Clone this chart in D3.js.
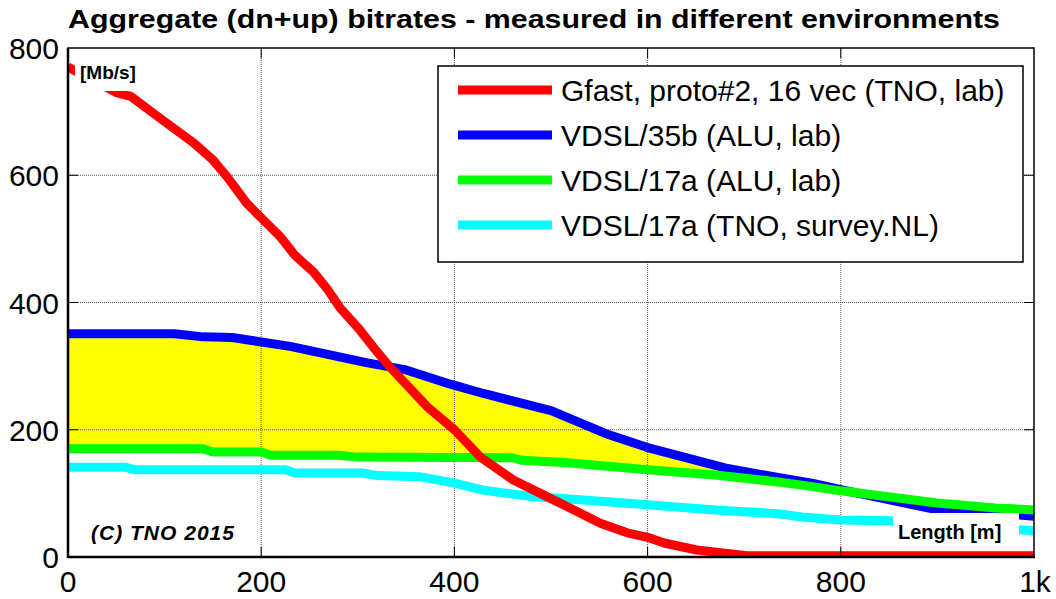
<!DOCTYPE html>
<html>
<head>
<meta charset="utf-8">
<script src="https://cdn.jsdelivr.net/npm/d3@7"></script>
<style>
  body { margin: 0; background: #fff; }
  text { font-family: "Liberation Sans", Arial, sans-serif; }
</style>
</head>
<body>
<svg id="chart" width="1056" height="599"></svg>
<script>
// data (length in m, rate in Mb/s)
const gfast_len = [0, 50, 65, 95, 130, 150, 165, 185, 200, 220, 235, 254, 268, 282, 302, 316, 333, 351, 372, 400, 427, 461, 489, 517, 551, 579, 600, 617, 651, 703, 1000]
const gfast_rate = [770, 730, 724, 690, 651, 624, 597, 556, 533, 503, 474, 448, 422, 391, 357, 330, 299, 270, 236, 200, 157, 121, 100, 79, 53, 38, 31, 22, 11, 2, 2]

const v35b_len = [0, 110, 140, 170, 200, 230, 310, 350, 395, 430, 500, 560, 600, 680, 735, 770, 800, 900, 985, 1000]
const v35b_rate = [351, 351, 346, 345, 338, 331, 305, 294, 272, 257, 230, 192, 172, 140, 125, 116, 106, 74, 66, 64]

const v17a_len = [0, 140, 150, 200, 210, 280, 300, 460, 470, 517, 600, 670, 735, 760, 800, 900, 960, 1000]
const v17a_rate = [170, 170, 165, 165, 160, 160, 157, 156, 152, 148, 137, 129, 118, 113, 104, 85, 77, 74]

const survey_len = [0, 60, 70, 225, 235, 305, 320, 365, 400, 430, 480, 530, 600, 670, 735, 760, 800, 850, 900, 985, 1000]
const survey_rate = [141, 141, 137, 137, 132, 132, 128, 126, 116, 105, 95, 90, 82, 74, 68, 63, 58, 57, 50, 43, 41]

const series_names = ['Gfast, proto#2, 16 vec (TNO, lab)', 'VDSL/35b (ALU, lab)', 'VDSL/17a (ALU, lab)', 'VDSL/17a (TNO, survey.NL)']
const series_colors = ['#ff0000', '#0000ff', '#00ff00', '#00ffff']

const x_ticks = [0, 200, 400, 600, 800, 1000]
const x_tick_labels = ['0', '200', '400', '600', '800', '1k']
const y_ticks = [0, 200, 400, 600, 800]

const title = 'Aggregate (dn+up) bitrates - measured in different environments'

// layout
const m_left = 68, m_right = 1034, m_top = 48, m_bottom = 557

const svg = d3.select('#chart')

const x = d3.scaleLinear().domain([0, 1000]).range([m_left, m_right])
const y = d3.scaleLinear().domain([0, 800]).range([m_bottom, m_top])

const zip = (xs, ys) => xs.map((d, i) => [d, ys[i]])
const series = [
	zip(gfast_len, gfast_rate),
	zip(v35b_len, v35b_rate),
	zip(v17a_len, v17a_rate),
	zip(survey_len, survey_rate)
]

const line = d3.line().x(d => x(d[0])).y(d => y(d[1]))

svg.append('clipPath').attr('id', 'plotclip')
	.append('rect')
	.attr('x', m_left).attr('y', m_top)
	.attr('width', m_right - m_left).attr('height', m_bottom - m_top)

const plot = svg.append('g').attr('clip-path', 'url(#plotclip)')

// yellow band between VDSL/35b and VDSL/17a (ALU)
const band = series[1].filter(d => d[0] <= 790)
	.concat(series[2].filter(d => d[0] <= 790).reverse())
plot.append('path')
	.attr('d', line(band) + 'Z')
	.attr('fill', '#ffff00')
	.attr('stroke', 'none')

// grid
plot.selectAll('.vgrid')
	.data(x_ticks.slice(1, -1))
	.enter().append('line')
	.attr('x1', d => x(d)).attr('x2', d => x(d))
	.attr('y1', m_top).attr('y2', m_bottom)
	.attr('stroke', '#555').attr('stroke-width', 1)
	.attr('stroke-dasharray', '1,1')
plot.selectAll('.hgrid')
	.data(y_ticks.slice(1, -1))
	.enter().append('line')
	.attr('x1', m_left).attr('x2', m_right)
	.attr('y1', d => y(d)).attr('y2', d => y(d))
	.attr('stroke', '#555').attr('stroke-width', 1)
	.attr('stroke-dasharray', '1,1')

// lines: blue, green, cyan, then red on top
const draw_order = [1, 2, 3, 0]
draw_order.forEach(i => {
	plot.append('path')
		.attr('d', line(series[i]))
		.attr('fill', 'none')
		.attr('stroke', series_colors[i])
		.attr('stroke-width', 9)
		.attr('stroke-linejoin', 'round')
})

// small inner ticks
x_ticks.slice(1, -1).forEach(t => {
	svg.append('line').attr('x1', x(t)).attr('x2', x(t))
		.attr('y1', m_bottom - 10).attr('y2', m_bottom).attr('stroke', '#000')
	svg.append('line').attr('x1', x(t)).attr('x2', x(t))
		.attr('y1', m_top).attr('y2', m_top + 10).attr('stroke', '#000')
})
y_ticks.slice(1, -1).forEach(t => {
	svg.append('line').attr('x1', m_left).attr('x2', m_left + 10)
		.attr('y1', y(t)).attr('y2', y(t)).attr('stroke', '#000')
	svg.append('line').attr('x1', m_right - 10).attr('x2', m_right)
		.attr('y1', y(t)).attr('y2', y(t)).attr('stroke', '#000')
})

// box
svg.append('rect')
	.attr('x', m_left).attr('y', m_top)
	.attr('width', m_right - m_left).attr('height', m_bottom - m_top)
	.attr('fill', 'none').attr('stroke', '#000').attr('stroke-width', 1.5)
svg.append('line').attr('x1', m_left).attr('x2', m_left).attr('y1', m_top).attr('y2', m_bottom + 1)
	.attr('stroke', '#000').attr('stroke-width', 2.5)
svg.append('line').attr('x1', m_left).attr('x2', m_right + 1).attr('y1', m_bottom).attr('y2', m_bottom)
	.attr('stroke', '#000').attr('stroke-width', 2.5)

// tick labels
svg.selectAll('.xlab')
	.data(x_ticks)
	.enter().append('text')
	.attr('x', (d, i) => x(d) + (i == x_ticks.length - 1 ? 1 : 0))
	.attr('y', 592)
	.attr('text-anchor', 'middle')
	.style('font-size', '30px')
	.text((d, i) => x_tick_labels[i])
svg.selectAll('.ylab')
	.data(y_ticks)
	.enter().append('text')
	.attr('x', 59)
	.attr('y', d => y(d) + 11)
	.attr('text-anchor', 'end')
	.style('font-size', '30px')
	.text(d => d)

// title
svg.append('text')
	.attr('x', 68).attr('y', 28)
	.attr('textLength', 932)
	.attr('lengthAdjust', 'spacingAndGlyphs')
	.style('font-size', '26px')
	.style('font-weight', 'bold')
	.text(title)

// unit labels with white backing
svg.append('rect').attr('x', 75).attr('y', 56).attr('width', 72).attr('height', 35).attr('fill', '#fff')
svg.append('text').attr('x', 80).attr('y', 79)
	.style('font-size', '19px').style('font-weight', 'bold')
	.text('[Mb/s]')

svg.append('rect').attr('x', 893).attr('y', 513).attr('width', 126).attr('height', 36).attr('fill', '#fff')
svg.append('text').attr('x', 898).attr('y', 539)
	.style('font-size', '20px').style('font-weight', 'bold')
	.text('Length [m]')

svg.append('text').attr('x', 91).attr('y', 540)
	.attr('textLength', 143)
	.style('font-size', '21px').style('font-weight', 'bold').style('font-style', 'italic')
	.text('(C) TNO 2015')

// legend
const legend = svg.append('g')
legend.append('rect')
	.attr('x', 438).attr('y', 66)
	.attr('width', 585).attr('height', 196)
	.attr('fill', '#fff').attr('stroke', '#000').attr('stroke-width', 1.5)
const legend_y = d3.scalePoint().domain(d3.range(series_names.length)).range([90, 225])
series_names.forEach((name, i) => {
	legend.append('line')
		.attr('x1', 458).attr('x2', 552)
		.attr('y1', legend_y(i)).attr('y2', legend_y(i))
		.attr('stroke', series_colors[i]).attr('stroke-width', 9)
	legend.append('text')
		.attr('x', 561).attr('y', legend_y(i) + 11)
		.style('font-size', '30px')
		.text(name)
})
</script>
</body>
</html>
